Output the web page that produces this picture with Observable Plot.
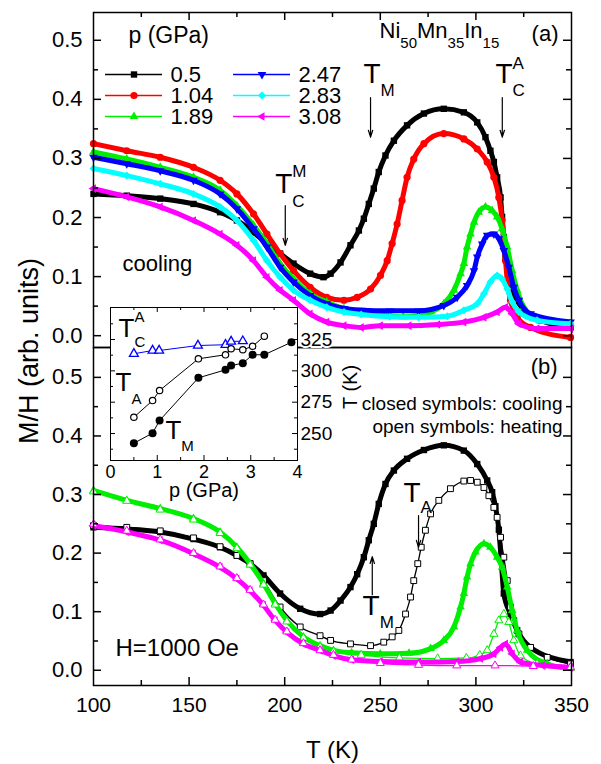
<!DOCTYPE html>
<html><head><meta charset="utf-8">
<script src="https://cdn.jsdelivr.net/npm/d3@7"></script>
<script src="https://cdn.jsdelivr.net/npm/@observablehq/plot@0.6"></script>
<style>
body{margin:0;background:#fff;}
#chart{position:relative;width:601px;height:764px;overflow:hidden;}
#chart svg{position:absolute;}
</style></head><body><div id="chart"></div>
<script>
// ---------- DATA: panel (a), cooling, [T (K), M/H] ----------
const a_0_5 = [[100,0.240],[117.4,0.237],[134.9,0.232],[152.3,0.223],[166.2,0.209],[175,0.195],[183.7,0.175],[190.7,0.156],[197.6,0.139],[204.6,0.122],[213.3,0.105],[220.3,0.099],[224,0.105],[229.2,0.124],[234.4,0.153],[238.8,0.178],[241.4,0.198],[244,0.223],[246.6,0.249],[249.2,0.277],[252.7,0.305],[257.1,0.330],[264,0.356],[272.8,0.376],[283.2,0.384],[293.7,0.378],[300.7,0.361],[305,0.336],[307.6,0.313],[309.4,0.294],[311.1,0.268],[312.9,0.234],[313.7,0.201],[314.6,0.167],[315.5,0.133],[317.2,0.099],[319.8,0.071],[325.1,0.043],[333.8,0.026],[349.5,0.014]];
const a_1_04 = [[100,0.325],[117.4,0.313],[134.9,0.302],[152.3,0.285],[166.2,0.263],[175,0.240],[183.7,0.206],[190.7,0.172],[197.6,0.139],[204.6,0.110],[213.3,0.082],[222,0.065],[231,0.060],[237.9,0.065],[244.9,0.079],[250.1,0.102],[253.6,0.127],[256.2,0.156],[258.8,0.189],[261.4,0.229],[264,0.268],[267.5,0.299],[272.8,0.325],[283.2,0.342],[293.7,0.333],[300.7,0.316],[305.9,0.294],[309.4,0.268],[312,0.234],[313.7,0.195],[314.6,0.161],[315.5,0.127],[316.4,0.093],[318.1,0.060],[321.6,0.031],[328.6,0.014],[349.5,-0.003]];
const a_1_89 = [[100,0.311],[117.4,0.299],[134.9,0.285],[152.3,0.268],[166.2,0.246],[175,0.220],[183.7,0.187],[190.7,0.156],[197.6,0.122],[204.6,0.096],[213.3,0.071],[222,0.057],[231,0.046],[240,0.040],[250,0.035],[262,0.032],[276.3,0.040],[283.2,0.054],[288.5,0.077],[292,0.105],[293.7,0.122],[295.4,0.150],[297.2,0.172],[299,0.192],[301.5,0.209],[305,0.218],[308.5,0.212],[311.1,0.201],[313.7,0.181],[316.4,0.150],[319,0.110],[321.6,0.077],[325.1,0.048],[332,0.029],[349.5,0.020]];
const a_2_47 = [[100,0.302],[117.4,0.291],[134.9,0.279],[152.3,0.263],[166.2,0.240],[175,0.215],[183.7,0.181],[190.7,0.150],[197.6,0.116],[204.6,0.091],[213.3,0.068],[222,0.054],[231,0.046],[240,0.043],[255,0.042],[270,0.042],[283.2,0.051],[290.2,0.065],[295.4,0.085],[299,0.110],[300.7,0.133],[303.3,0.155],[305.9,0.170],[309.4,0.172],[312,0.164],[314.6,0.144],[317.2,0.116],[319.8,0.082],[322.5,0.060],[328.6,0.037],[349.5,0.023]];
const a_2_83 = [[100,0.283],[117.4,0.271],[134.9,0.257],[152.3,0.240],[166.2,0.218],[175,0.195],[183.7,0.161],[190.7,0.127],[197.6,0.099],[204.6,0.077],[213.3,0.060],[222,0.048],[231,0.040],[240,0.036],[255,0.032],[270,0.031],[285,0.033],[293.7,0.043],[300.7,0.054],[304.2,0.071],[307.6,0.091],[311.1,0.102],[313.7,0.096],[316.4,0.079],[319,0.057],[322.5,0.040],[332,0.026],[349.5,0.020]];
const a_3_08 = [[100,0.249],[117.4,0.235],[134.9,0.218],[152.3,0.195],[166.2,0.172],[175,0.153],[183.7,0.127],[190.7,0.099],[197.6,0.077],[204.6,0.060],[213.3,0.037],[222,0.023],[231,0.017],[240,0.014],[250,0.017],[265,0.017],[280,0.019],[293.7,0.023],[304.2,0.031],[311.1,0.040],[315.5,0.048],[319,0.037],[322.5,0.020],[332,0.012],[349.5,0.012]];

// ---------- DATA: panel (b), cooling (closed) / heating (open) ----------
const b_0_5_cool = [[100,0.244],[117.4,0.241],[134.9,0.236],[152.3,0.224],[166.2,0.210],[175,0.196],[181.9,0.182],[188.9,0.162],[197.6,0.131],[208.1,0.105],[218.5,0.096],[224,0.102],[229.2,0.119],[234.4,0.142],[237.9,0.164],[241.4,0.193],[244,0.222],[246.6,0.250],[249.2,0.284],[252.7,0.318],[257.1,0.341],[264,0.361],[272.8,0.376],[283.2,0.384],[293.7,0.375],[300.7,0.352],[305.9,0.324],[308.5,0.304],[310.2,0.280],[312,0.240],[313.2,0.190],[314.6,0.131],[318.1,0.096],[321.6,0.068],[328.6,0.039],[349.5,0.014]];
const b_0_5_heat = [[100,0.247],[117.4,0.244],[134.9,0.238],[152.3,0.226],[166.2,0.211],[175,0.196],[181.9,0.182],[188.9,0.153],[197.6,0.108],[208.1,0.074],[218.5,0.059],[224,0.051],[234.4,0.045],[244.9,0.042],[251.8,0.048],[256.2,0.057],[259.7,0.068],[263.2,0.096],[265.8,0.125],[267.5,0.153],[269.6,0.182],[271.4,0.210],[273.6,0.239],[276.3,0.267],[280.6,0.290],[286.7,0.310],[293.7,0.323],[297.2,0.324],[300.7,0.321],[304.2,0.312],[306.8,0.298],[309.4,0.278],[311.1,0.261],[312.9,0.227],[314.6,0.193],[316.4,0.153],[318.1,0.108],[319.8,0.085],[322.5,0.062],[328.6,0.039],[337.3,0.022],[349.5,0.011]];
const b_1_89_cool = [[100,0.307],[117.4,0.290],[134.9,0.276],[152.3,0.259],[166.2,0.236],[175,0.210],[181.9,0.182],[188.9,0.148],[195,0.114],[201.1,0.085],[209.8,0.057],[218.5,0.042],[225.5,0.034],[235,0.030],[250,0.028],[265,0.029],[276.3,0.037],[283.2,0.051],[288.5,0.074],[292,0.108],[293.7,0.131],[295.4,0.159],[297.2,0.182],[299.8,0.202],[304.2,0.216],[307.6,0.210],[311.1,0.193],[313.7,0.176],[316.4,0.142],[319,0.102],[321.6,0.068],[326.8,0.034],[337.3,0.011],[349.5,0.003]];
const b_1_89_heat = [[100,0.305],[117.4,0.289],[134.9,0.274],[152.3,0.257],[166.2,0.234],[175,0.208],[181.9,0.180],[188.9,0.146],[195,0.112],[201.1,0.083],[209.8,0.055],[218.5,0.040],[225.5,0.032],[240,0.026],[260,0.021],[280,0.020],[295,0.021],[302,0.026],[305.9,0.034],[309.4,0.062],[312,0.085],[314.6,0.096],[317.2,0.082],[319.8,0.051],[323.3,0.025],[332,0.011],[349.5,0.005]];
const b_3_08_cool = [[100,0.247],[117.4,0.236],[134.9,0.222],[152.3,0.199],[166.2,0.176],[175,0.156],[181.9,0.136],[188.9,0.111],[195,0.085],[201.1,0.065],[209.8,0.045],[218.5,0.034],[225.5,0.025],[235,0.018],[250,0.015],[270,0.014],[290,0.015],[302.4,0.020],[309.4,0.028],[312.9,0.039],[315.5,0.045],[319,0.028],[323.3,0.014],[335,0.008],[349.5,0.005]];
const b_3_08_heat = [[100,0.249],[117.4,0.238],[134.9,0.223],[152.3,0.200],[166.2,0.177],[175,0.157],[181.9,0.137],[188.9,0.112],[195,0.086],[201.1,0.066],[209.8,0.046],[218.5,0.034],[225.5,0.026],[235,0.018],[250,0.012],[270,0.009],[290,0.008],[310,0.008],[330,0.007],[349.5,0.005]];

// ---------- DATA: inset, transition temperatures vs pressure ----------
const p_TCA = [0.5, 0.9, 1.04, 1.87, 2.46, 2.58, 2.83];
const T_CA  = [313.6, 316.2, 316.2, 320.2, 320.8, 323.4, 323.7];
const p_TA  = [0.5, 0.9, 1.05, 1.88, 2.46, 2.58, 2.83, 3.04, 3.29];
const T_A   = [263.0, 276.3, 284.3, 309.6, 312.8, 317.6, 316.8, 319.6, 327.6];
const p_TM  = [0.5, 0.9, 1.05, 1.88, 2.46, 2.58, 2.83, 3.04, 3.29, 3.87];
const T_M   = [242.3, 250.3, 260.4, 294.4, 300.8, 304.2, 306.1, 312.8, 312.8, 322.8];

// ---------- tick values & labels ----------
const pLabels = ["0.5", "1.04", "1.89", "2.47", "2.83", "3.08"];
const xMajor = [150, 200, 250, 300];
const xMinor = [125, 175, 225, 275, 325];
const xLabels = [100, 150, 200, 250, 300, 350];
const yMajor = [0, 0.1, 0.2, 0.3, 0.4, 0.5];
const yMinor = [0.05, 0.15, 0.25, 0.35, 0.45];
const insetXMajor = [1, 2, 3];
const insetXMinor = [0.5, 1.5, 2.5, 3.5];
const insetXLabels = [0, 1, 2, 3, 4];
const insetYMajor = [250, 275, 300, 325];
const insetYMinor = [237.5, 262.5, 287.5, 312.5, 337.5];

// ---------- symbols ----------
const sqrt3 = Math.sqrt(3);
const triDown = {draw(c, s){ const y = -Math.sqrt(s/(sqrt3*3)); c.moveTo(0,-2*y); c.lineTo(-sqrt3*y, y); c.lineTo(sqrt3*y, y); c.closePath(); }};
const triLeft = {draw(c, s){ const y = -Math.sqrt(s/(sqrt3*3)); c.moveTo(2*y,0); c.lineTo(-y,-sqrt3*y); c.lineTo(-y, sqrt3*y); c.closePath(); }};

const colors = ["#000000","#ff0000","#00ee00","#0000ff","#00ffff","#ff00ff"];
const symbolsA = ["square","circle","triangle",triDown,"diamond2",triLeft];
const radii = [3.6, 3.6, 3.2, 3.2, 3.6, 3.2];
const seriesA = [a_0_5, a_1_04, a_1_89, a_2_47, a_2_83, a_3_08];

const seriesB = [
  {data: b_0_5_cool, c: 0, symbol: "square", r: 3.6, open: false},
  {data: b_0_5_heat, c: 0, symbol: "square", r: 3.3, open: true},
  {data: b_1_89_cool, c: 2, symbol: "triangle", r: 3.2, open: false},
  {data: b_1_89_heat, c: 2, symbol: "triangle", r: 3.0, open: true},
  {data: b_3_08_cool, c: 5, symbol: triLeft, r: 3.2, open: false},
  {data: b_3_08_heat, c: 5, symbol: "triangle", r: 3.0, open: true}
];

const FONT = "Liberation Sans, Arial, Helvetica, sans-serif";
const X = d => d[0], Y = d => d[1], I = d => d;

function curveMarks(data, color, symbol, r, open, lw) {
  return [
    Plot.line(data, {x: X, y: Y, stroke: color, strokeWidth: open ? 1.3 : lw, curve: "monotone-x"}),
    Plot.dot(data, {x: X, y: Y, symbol, r, fill: open ? "white" : color, stroke: open ? color : "none", strokeWidth: 1})
  ];
}

function inTicks(fw, fh, yMaj, yMin, xMaj, xMin, top, bottom, lMaj, lMin, sw) {
  const m = [];
  for (const [v, l] of [[yMaj, lMaj], [yMin, lMin]]) {
    m.push(Plot.tickY(v, {y: I, insetRight: fw - l, strokeWidth: sw}));
    m.push(Plot.tickY(v, {y: I, insetLeft: fw - l, strokeWidth: sw}));
  }
  for (const [v, l] of [[xMaj, lMaj], [xMin, lMin]]) {
    if (top) m.push(Plot.tickX(v, {x: I, insetBottom: fh - l, strokeWidth: sw}));
    if (bottom) m.push(Plot.tickX(v, {x: I, insetTop: fh - l, strokeWidth: sw}));
  }
  return m;
}

// rich text: [string, baseline shift px, font size, dx]
function rich(svg, specs) {
  svg.querySelectorAll("text").forEach(t => {
    const spec = specs[t.textContent];
    if (!spec) return;
    while (t.firstChild) t.removeChild(t.firstChild);
    let cur = 0;
    for (const [s, shift = 0, size = null, dx = 0] of spec) {
      const ts = document.createElementNS("http://www.w3.org/2000/svg", "tspan");
      ts.textContent = s;
      if (shift !== cur) ts.setAttribute("dy", shift - cur);
      if (dx) ts.setAttribute("dx", dx);
      if (size) ts.setAttribute("font-size", size);
      cur = shift;
      t.appendChild(ts);
    }
  });
}
const RICH = {
  "T_M": [["T"], ["M", 13, 17]],
  "T_A": [["T"], ["A", 11, 17]],
  "T_C^A": [["T"], ["A", -14, 17], ["C", 13, 17, -11.3]],
  "T_C^M": [["T"], ["M", -16, 17], ["C", 14, 17, -14.2]],
  "Ni50Mn35In15": [["Ni"], ["50", 10, 15], ["Mn", 0], ["35", 10, 15], ["In", 0], ["15", 10, 15]],
  "iT_C^A": [["T"], ["A", -15, 15], ["C", 10, 15, -10]],
  "iT_A": [["T"], ["A", 13, 15]],
  "iT_M": [["T"], ["M", 12, 15]]
};

// annotations (data coordinates)
const annA = [
  {x: 241.2, y: 0.4285, t: "T_M"},
  {x: 310.2, y: 0.4285, t: "T_C^A"},
  {x: 195.0, y: 0.2407, t: "T_C^M"}
];
const arrowsA = [
  {x: 244.9, y1: 0.403, y2: 0.336},
  {x: 313.8, y1: 0.403, y2: 0.336},
  {x: 200.3, y1: 0.220, y2: 0.153}
];
const annB = [
  {x: 262.1, y: 0.2864, t: "T_A"},
  {x: 240.7, y: 0.0935, t: "T_M"}
];
const arrowsB = [
  {x: 270.0, y1: 0.264, y2: 0.210},
  {x: 245.8, y1: 0.129, y2: 0.194}
];

const chart = document.getElementById("chart");
function place(svg, left, top) {
  svg.style.position = "absolute"; svg.style.left = left + "px"; svg.style.top = top + "px";
  svg.style.overflow = "visible"; svg.style.background = "transparent"; svg.style.maxWidth = "none";
  svg.setAttribute("font-family", FONT);
  rich(svg, RICH);
  chart.appendChild(svg);
}

// ---------- panel (a) ----------
const panelA = Plot.plot({
  width: 601, height: 347, marginLeft: 93, marginRight: 30, marginTop: 12, marginBottom: 0,
  x: {domain: [100, 350], axis: null},
  y: {domain: [-0.02, 0.547]},
  marks: [
    ...seriesA.flatMap((d, i) => curveMarks(d, colors[i], symbolsA[i], radii[i], false, 5)),
    ...inTicks(478, 335, yMajor, yMinor, xMajor, xMinor, true, false, 8, 5, 1.5),
    Plot.axisY({ticks: yMajor, tickSize: 0, tickPadding: 11, fontSize: 22, tickFormat: d3.format(".1f"), label: null}),
    Plot.arrow(arrowsA, {x1: "x", x2: "x", y1: "y1", y2: "y2", strokeWidth: 1.2, headLength: 9, headAngle: 35}),
    Plot.text(annA, {x: "x", y: "y", text: "t", textAnchor: "start", lineAnchor: "bottom", fontSize: 28}),
    Plot.text(["Ni50Mn35In15"], {x: 249.6, y: 0.503, textAnchor: "start", lineAnchor: "bottom", fontSize: 22}),
    Plot.text(["(a)"], {x: 343.2, y: 0.4996, textAnchor: "end", lineAnchor: "bottom", fontSize: 22}),
    Plot.text(["p (GPa)"], {x: 118.3, y: 0.4946, textAnchor: "start", lineAnchor: "bottom", fontSize: 23}),
    Plot.text(["cooling"], {x: 115.2, y: 0.1103, textAnchor: "start", lineAnchor: "bottom", fontSize: 22}),
    Plot.frame({strokeWidth: 1.5})
  ]
});
place(panelA, 0, 0);

// ---------- legend ----------
const legendRows = pLabels.map((p, i) => ({p, i, col: Math.floor(i / 3), row: i % 3}));
const legend = Plot.plot({
  width: 280, height: 100, margin: 0,
  x: {type: "band", domain: [0, 1], range: [12, 197], paddingInner: 0.555, paddingOuter: 0, axis: null},
  y: {type: "point", domain: [0, 1, 2], range: [23.3, 86.7], axis: null},
  marks: [
    ...legendRows.flatMap(d => [
      Plot.tickY([d], {x: "col", y: "row", stroke: colors[d.i], strokeWidth: 1.5}),
      Plot.dot([d], {x: "col", y: "row", symbol: symbolsA[d.i], r: radii[d.i], fill: colors[d.i]})
    ]),
    Plot.text(legendRows, {x: "col", y: "row", text: "p", dx: 36.5, textAnchor: "start", lineAnchor: "middle", fontSize: 22})
  ]
});
place(legend, 93, 40);

// ---------- panel (b) ----------
const panelB = Plot.plot({
  width: 601, height: 417, marginLeft: 93, marginRight: 30, marginTop: 0, marginBottom: 79,
  x: {domain: [100, 350]},
  y: {domain: [-0.026, 0.551]},
  marks: [
    ...seriesB.flatMap(s => curveMarks(s.data, colors[s.c], s.symbol, s.r, s.open, 5)),
    ...inTicks(478, 338, yMajor, yMinor, xMajor, xMinor, false, true, 8, 5, 1.5),
    Plot.axisY({ticks: yMajor, tickSize: 0, tickPadding: 11, fontSize: 22, tickFormat: d3.format(".1f"), label: null}),
    Plot.axisX({ticks: xLabels, tickSize: 0, tickPadding: 12, fontSize: 21, tickFormat: d => String(d), label: null}),
    Plot.text(["T (K)"], {frameAnchor: "bottom", dy: 72, lineAnchor: "bottom", fontSize: 24}),
    Plot.text(["M/H (arb. units)"], {frameAnchor: "top-left", dx: -56, dy: 3.5, rotate: -90, textAnchor: "middle", lineAnchor: "bottom", fontSize: 27}),
    Plot.arrow(arrowsB, {x1: "x", x2: "x", y1: "y1", y2: "y2", strokeWidth: 1.2, headLength: 9, headAngle: 35}),
    Plot.text(annB, {x: "x", y: "y", text: "t", textAnchor: "start", lineAnchor: "bottom", fontSize: 28}),
    Plot.text(["(b)"], {x: 342.7, y: 0.5066, textAnchor: "end", lineAnchor: "bottom", fontSize: 22}),
    Plot.text(["closed symbols: cooling"], {x: 345.3, y: 0.4451, textAnchor: "end", lineAnchor: "bottom", fontSize: 19}),
    Plot.text(["open symbols: heating"], {x: 345.3, y: 0.4042, textAnchor: "end", lineAnchor: "bottom", fontSize: 19}),
    Plot.text(["H=1000 Oe"], {x: 111.5, y: 0.0252, textAnchor: "start", lineAnchor: "bottom", fontSize: 24}),
    Plot.frame({strokeWidth: 1.5})
  ]
});
place(panelB, 0, 347);

// ---------- inset ----------
const tca = p_TCA.map((p, i) => [p, T_CA[i]]);
const ta = p_TA.map((p, i) => [p, T_A[i]]);
const tm = p_TM.map((p, i) => [p, T_M[i]]);
const inset = Plot.plot({
  width: 260, height: 210, marginLeft: 6, marginRight: 67, marginTop: 7, marginBottom: 50,
  x: {domain: [0, 4]},
  y: {domain: [228.5, 350.5]},
  marks: [
    Plot.frame({fill: "white", stroke: "none"}),
    ...inTicks(187, 153, insetYMajor, insetYMinor, insetXMajor, insetXMinor, true, true, 5, 3, 1),
    Plot.line(tca, {x: X, y: Y, stroke: "#0000ff", strokeWidth: 1}),
    Plot.dot(tca, {x: X, y: Y, symbol: "triangle", r: 3.3, fill: "white", stroke: "#0000ff", strokeWidth: 1.3}),
    Plot.line(ta, {x: X, y: Y, stroke: "black", strokeWidth: 1}),
    Plot.dot(ta, {x: X, y: Y, r: 3.2, fill: "white", stroke: "black", strokeWidth: 1.2}),
    Plot.line(tm, {x: X, y: Y, stroke: "black", strokeWidth: 1}),
    Plot.dot(tm, {x: X, y: Y, r: 4, fill: "black"}),
    Plot.axisX({ticks: insetXLabels, tickSize: 0, tickPadding: 5, fontSize: 18, tickFormat: d => String(d), label: null}),
    Plot.axisY({anchor: "right", ticks: insetYMajor, tickSize: 0, tickPadding: 3, fontSize: 19, tickFormat: d => String(d), label: null, textStroke: "white", textStrokeWidth: 4}),
    Plot.text(["p (GPa)"], {frameAnchor: "bottom", dy: 36.7, lineAnchor: "bottom", fontSize: 20}),
    Plot.text(["T (K)"], {frameAnchor: "right", dx: 59, dy: 3, rotate: -90, textAnchor: "middle", lineAnchor: "bottom", fontSize: 20}),
    Plot.text([{x: 0.171, y: 326.6, t: "iT_C^A"}, {x: 0.107, y: 284.3, t: "iT_A"}, {x: 1.176, y: 246.0, t: "iT_M"}],
      {x: "x", y: "y", text: "t", textAnchor: "start", lineAnchor: "bottom", fontSize: 26}),
    Plot.frame({strokeWidth: 1})
  ]
});
place(inset, 104, 300);
</script></body></html>
